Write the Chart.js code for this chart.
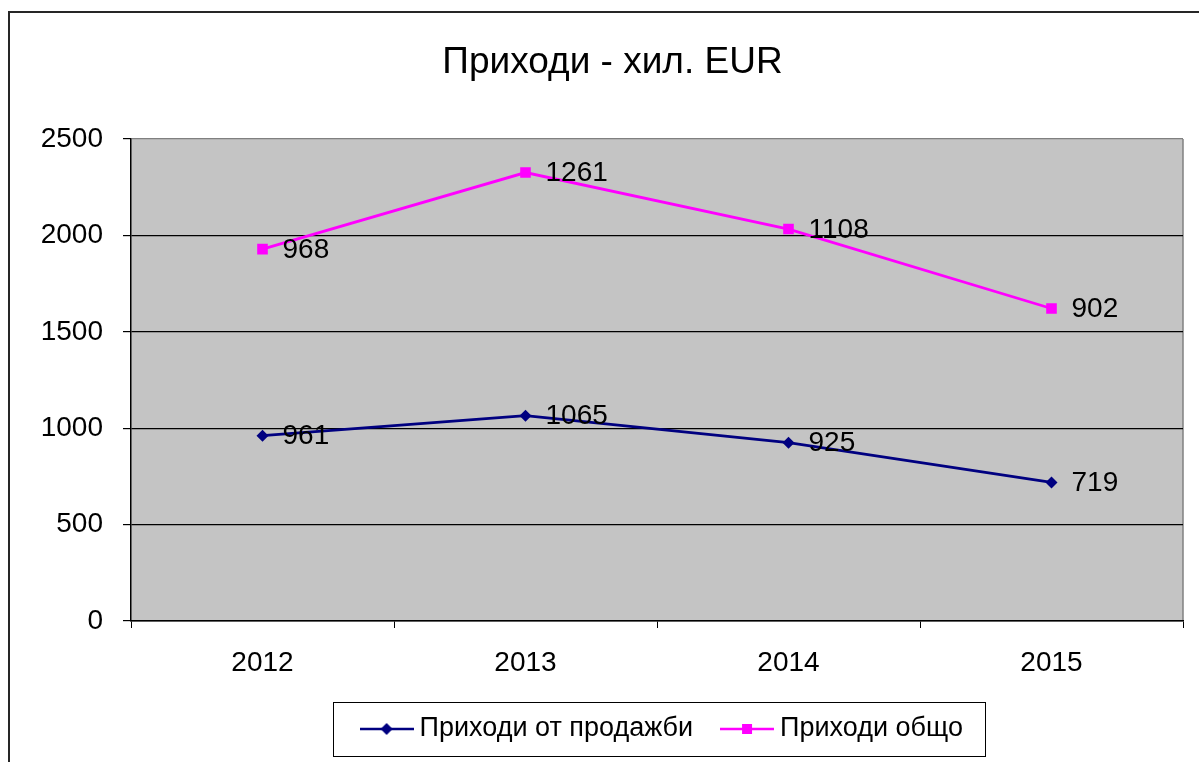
<!DOCTYPE html>
<html>
<head>
<meta charset="utf-8">
<script src="https://cdn.jsdelivr.net/npm/chart.js@4.4.1/dist/chart.umd.min.js"></script>
<style>
  html, body { margin: 0; padding: 0; background: #fff; }
  #wrap { position: relative; width: 1199px; height: 762px; overflow: hidden; }
  #frame { position: absolute; left: 8px; top: 11px; width: 1300px; height: 900px;
           border-left: 2px solid #262626; border-top: 2px solid #262626; }
  #c { position: absolute; left: 0; top: 0; }
</style>
</head>
<body>
<div id="wrap">
  <div id="frame"></div>
  <canvas id="c" width="1199" height="762"></canvas>
</div>
<script>
const categories = ['2012', '2013', '2014', '2015'];
const salesRevenue = [961, 1065, 925, 719];
const totalRevenue = [968, 1261, 1108, 902];
const seriesNames = ['Приходи от продажби', 'Приходи общо'];
const chartTitle = 'Приходи - хил. EUR';

const FONT = "'Liberation Sans', Arial, sans-serif";
const BLUE = '#000080';
const PINK = '#ff00ff';

function makeIcon(color, style) {
  const cv = document.createElement('canvas');
  cv.width = 54; cv.height = 16;
  const g = cv.getContext('2d');
  g.strokeStyle = color; g.lineWidth = 2.5;
  g.beginPath(); g.moveTo(0, 8); g.lineTo(54, 8); g.stroke();
  g.fillStyle = color;
  if (style === 'diamond') {
    g.beginPath(); g.moveTo(27, 2); g.lineTo(33, 8); g.lineTo(27, 14); g.lineTo(21, 8); g.closePath(); g.fill();
  } else {
    g.fillRect(22, 3, 10, 10);
  }
  return cv;
}
const icons = [makeIcon(BLUE, 'diamond'), makeIcon(PINK, 'square')];

const plotBg = {
  id: 'plotBg',
  afterLayout(chart) {
    const lg = chart.legend;
    if (lg) { lg.left += 8; lg.right += 8; }
  },
  beforeDraw(chart) {
    const {ctx, chartArea: a} = chart;
    ctx.save();
    ctx.fillStyle = '#c4c4c4';
    ctx.fillRect(a.left, a.top, a.right - a.left, a.bottom - a.top);
    ctx.strokeStyle = '#808080';
    ctx.lineWidth = 1.5;
    ctx.beginPath();
    ctx.moveTo(a.right, a.top); ctx.lineTo(a.right, a.bottom);
    ctx.stroke();
    ctx.restore();
  }
};

const valueLabels = {
  id: 'valueLabels',
  afterDatasetsDraw(chart) {
    const ctx = chart.ctx;
    ctx.save();
    ctx.font = '28px ' + FONT;
    ctx.fillStyle = '#000';
    ctx.textAlign = 'left';
    ctx.textBaseline = 'middle';
    chart.data.datasets.forEach((ds, di) => {
      const meta = chart.getDatasetMeta(di);
      meta.data.forEach((pt, i) => {
        ctx.fillText(String(ds.data[i]), pt.x + 20, pt.y + 1);
      });
    });
    ctx.restore();
  }
};

const legendBorder = {
  id: 'legendBorder',
  afterDraw(chart) {
    const lg = chart.legend;
    if (!lg || !lg.legendHitBoxes || !lg.legendHitBoxes.length) return;
    const hb = lg.legendHitBoxes;
    const first = hb[0], last = hb[hb.length - 1];
    const cy = first.top + first.height / 2;
    const ctx = chart.ctx;
    ctx.save();
    ctx.strokeStyle = '#000';
    ctx.lineWidth = 1;
    const l = Math.round(first.left - 34) + 0.5;
    const r = Math.round(last.left + last.width + 22) + 0.5;
    const t = Math.round(cy - 27) + 0.5;
    const b = Math.round(cy + 27) + 0.5;
    ctx.strokeRect(l, t, r - l, b - t);
    ctx.restore();
  }
};

new Chart(document.getElementById('c'), {
  type: 'line',
  data: {
    labels: categories,
    datasets: [
      {
        label: seriesNames[0],
        data: salesRevenue,
        borderColor: BLUE,
        backgroundColor: BLUE,
        borderWidth: 2.8,
        pointStyle: 'rectRot',
        pointRadius: 6,
        pointBorderWidth: 0,
        pointBackgroundColor: BLUE,
        tension: 0,
        fill: false
      },
      {
        label: seriesNames[1],
        data: totalRevenue,
        borderColor: PINK,
        backgroundColor: PINK,
        borderWidth: 2.8,
        pointStyle: 'rect',
        pointRadius: 7.5,
        pointBorderWidth: 0,
        pointBackgroundColor: PINK,
        tension: 0,
        fill: false
      }
    ]
  },
  options: {
    responsive: false,
    animation: false,
    devicePixelRatio: 1,
    layout: { padding: { left: 42, right: 16, top: 0, bottom: 9.5 } },
    plugins: {
      tooltip: { enabled: false },
      title: {
        display: true,
        text: chartTitle,
        color: '#000',
        font: { family: FONT, size: 37, weight: 'normal', lineHeight: 1.2 },
        padding: { top: 41, bottom: 53.6 }
      },
      legend: {
        display: true,
        position: 'bottom',
        fullSize: false,
        labels: {
          color: '#000',
          font: { family: FONT, size: 27 },
          usePointStyle: true,
          pointStyleWidth: 39,
          padding: 34.5,
          generateLabels(chart) {
            const items = Chart.defaults.plugins.legend.labels.generateLabels(chart);
            items.forEach((it, i) => { it.pointStyle = icons[i]; });
            return items;
          }
        }
      }
    },
    scales: {
      x: {
        offset: true,
        afterFit(scale) { scale.height = 60; },
        grid: { display: true, offset: true, drawOnChartArea: false, drawTicks: true, tickLength: 7, color: '#000' },
        border: { display: true, color: '#000', width: 1.5 },
        ticks: { color: '#000', font: { family: FONT, size: 28 }, padding: 18, maxRotation: 0 }
      },
      y: {
        stacked: true,
        min: 0,
        max: 2500,
        afterFit(scale) { scale.width = 89; },
        grid: {
          drawTicks: true,
          tickLength: 8,
          color: (c) => (c.tick && c.tick.value === 2500) ? '#808080' : '#000',
          tickColor: '#000',
          lineWidth: 1.2
        },
        border: { display: true, color: '#000', width: 1.5 },
        ticks: {
          stepSize: 500,
          color: '#000',
          font: { family: FONT, size: 28 },
          padding: 20,
          callback: (v) => String(v)
        }
      }
    }
  },
  plugins: [plotBg, valueLabels, legendBorder]
});
</script>
</body>
</html>
